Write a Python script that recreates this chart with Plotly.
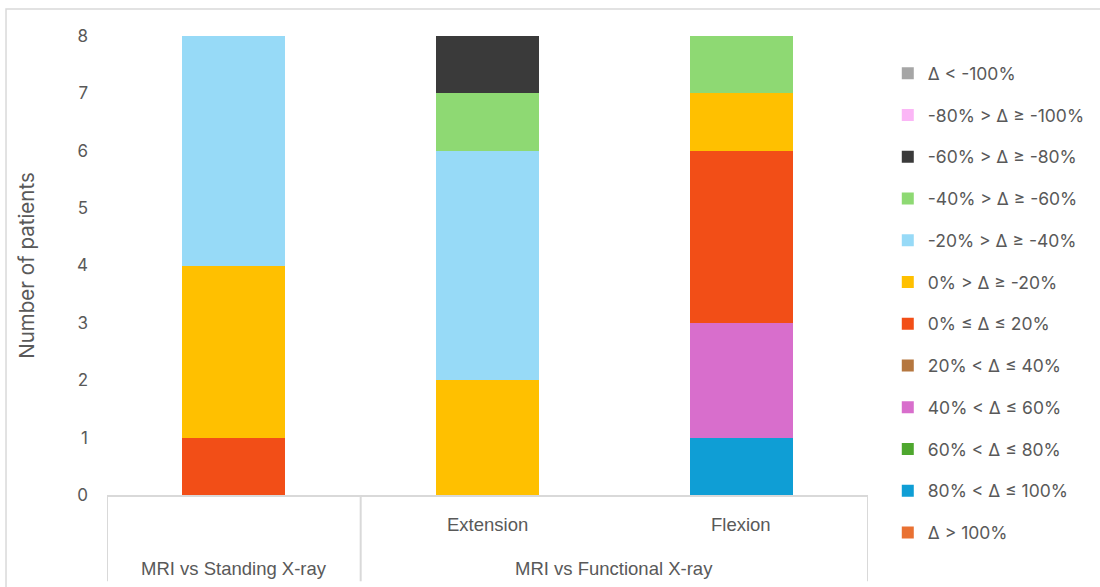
import plotly.graph_objects as go

# Category structure: outer group / inner label
groups = ["MRI vs Standing X-ray", "MRI vs Functional X-ray", "MRI vs Functional X-ray"]
subcats = ["", "Extension", "Flexion"]

# Series listed from the bottom of the stack upward
series_names = [
    "Δ > 100%",
    "80% < Δ ≤ 100%",
    "60% < Δ ≤ 80%",
    "40% < Δ ≤ 60%",
    "20% < Δ ≤ 40%",
    "0% ≤ Δ ≤ 20%",
    "0% > Δ ≥ -20%",
    "-20% > Δ ≥ -40%",
    "-40% > Δ ≥ -60%",
    "-60% > Δ ≥ -80%",
    "-80% > Δ ≥ -100%",
    "Δ < -100%",
]
series_colors = [
    "#E97132",
    "#0F9ED5",
    "#4EA72E",
    "#D86ECC",
    "#B5773F",
    "#F24E17",
    "#FFC000",
    "#97DAF7",
    "#8ED973",
    "#3A3A3A",
    "#FBB6F6",
    "#A6A6A6",
]
# Patient counts per category (Standing, Extension, Flexion)
counts_gt100 = [0, 0, 0]
counts_80_100 = [0, 0, 1]
counts_60_80 = [0, 0, 0]
counts_40_60 = [0, 0, 2]
counts_20_40 = [0, 0, 0]
counts_0_20 = [1, 0, 3]
counts_0_m20 = [3, 2, 1]
counts_m20_m40 = [4, 4, 0]
counts_m40_m60 = [0, 1, 1]
counts_m60_m80 = [0, 1, 0]
counts_m80_m100 = [0, 0, 0]
counts_ltm100 = [0, 0, 0]

series_values = [
    counts_gt100, counts_80_100, counts_60_80, counts_40_60, counts_20_40,
    counts_0_20, counts_0_m20, counts_m20_m40, counts_m40_m60, counts_m60_m80,
    counts_m80_m100, counts_ltm100,
]

y_ticks = [0, 1, 2, 3, 4, 5, 6, 7, 8]

TEXT_GRAY = "#595959"
LINE_GRAY = "#D9D9D9"
CAT_FONT = dict(family="Liberation Sans Narrow, sans-serif", size=18.5, color=TEXT_GRAY)

# Positions of the categories along the x axis
x_pos = list(range(len(subcats)))

fig = go.Figure()
for i, (name, color, vals) in enumerate(zip(series_names, series_colors, series_values)):
    fig.add_trace(go.Bar(
        x=x_pos,
        y=vals,
        name=name,
        legendgroup=f"g{i}",
        legendrank=1000 - i,
        marker=dict(color=color, line=dict(width=0)),
    ))

# Two-level category axis: inner labels, group labels and group dividers
for xp, label in zip(x_pos, subcats):
    if label:
        fig.add_annotation(
            x=xp, y=0, xref="x", yref="paper", text=label, showarrow=False,
            yanchor="middle", yshift=-29, font=CAT_FONT,
        )

group_spans = []
for xp, g in zip(x_pos, groups):
    if group_spans and group_spans[-1][0] == g:
        group_spans[-1][2] = xp
    else:
        group_spans.append([g, xp, xp])

for g, first, last in group_spans:
    fig.add_annotation(
        x=(first + last) / 2, y=0, xref="x", yref="paper", text=g, showarrow=False,
        yanchor="middle", yshift=-73, font=CAT_FONT,
    )

boundaries = [group_spans[0][1] - 0.5] + [last + 0.5 for _, _, last in group_spans]
for b in boundaries:
    fig.add_shape(
        type="line", xref="x", yref="paper", x0=b, x1=b, y0=0, y1=-0.188,
        line=dict(color=LINE_GRAY, width=2),
    )

fig.update_layout(
    width=1100,
    height=587,
    barmode="stack",
    bargap=0.595,
    plot_bgcolor="white",
    paper_bgcolor="white",
    margin=dict(l=107, r=232, t=36, b=92, autoexpand=False),
    font=dict(family="Inter, sans-serif", color=TEXT_GRAY),
    legend=dict(
        traceorder="grouped",
        tracegroupgap=16,
        x=1.026,
        xanchor="left",
        y=0.958,
        yanchor="top",
        maxheight=600,
        font=dict(size=17.5, color=TEXT_GRAY),
        bgcolor="rgba(0,0,0,0)",
    ),
    xaxis=dict(
        range=[-0.5, len(subcats) - 0.5],
        showline=True,
        linecolor=LINE_GRAY,
        linewidth=2,
        showticklabels=False,
        showgrid=False,
        zeroline=False,
        ticks="",
    ),
    yaxis=dict(
        range=[0, 8],
        tickvals=y_ticks,
        showgrid=False,
        zeroline=False,
        showline=False,
        ticks="",
        ticklabelstandoff=18,
        tickfont=dict(size=17, color=TEXT_GRAY),
        title=dict(text="Number of patients", font=dict(size=20.5, color=TEXT_GRAY), standoff=36),
    ),
)

# Light outer frame around the chart area
fig.add_shape(
    type="rect", xref="paper", yref="paper",
    x0=-0.1327, x1=1.4, y0=-0.3, y1=1.059,
    line=dict(color=LINE_GRAY, width=1.5), fillcolor="rgba(0,0,0,0)", layer="below",
)

fig.write_html("out.html")
